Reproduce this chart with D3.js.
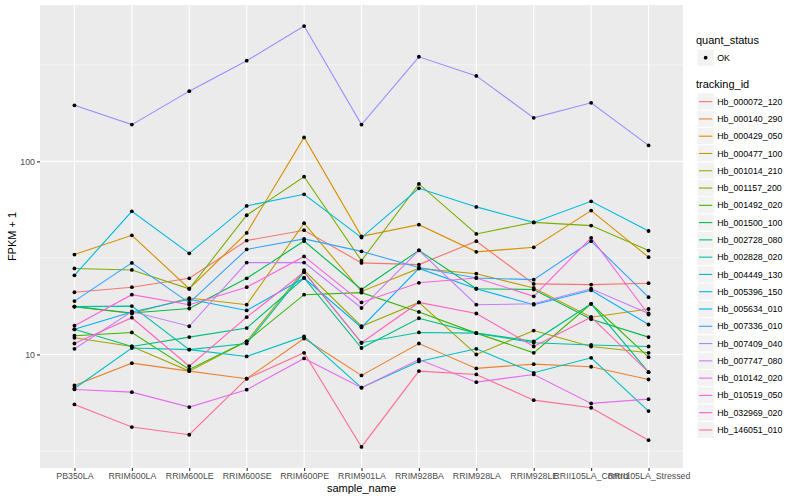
<!DOCTYPE html>
<html>
<head>
<meta charset="utf-8">
<script src="https://cdn.jsdelivr.net/npm/d3@7"></script>
<style>
  body { margin: 0; background: #fff; }
  text { font-family: "Liberation Sans", Arial, sans-serif; }
</style>
</head>
<body>
<svg id="chart" width="800" height="500"></svg>
<script>
// samples on the x axis
const samples = [
  "PB350LA", "RRIM600LA", "RRIM600LE", "RRIM600SE", "RRIM600PE", "RRIM901LA",
  "RRIM928BA", "RRIM928LA", "RRIM928LE", "RRII105LA_Control", "RRII105LA_Stressed",
];

const trackingIds = [
  "Hb_000072_120", "Hb_000140_290", "Hb_000429_050", "Hb_000477_100", "Hb_001014_210",
  "Hb_001157_200", "Hb_001492_020", "Hb_001500_100", "Hb_002728_080", "Hb_002828_020",
  "Hb_004449_130", "Hb_005396_150", "Hb_005634_010", "Hb_007336_010", "Hb_007409_040",
  "Hb_007747_080", "Hb_010142_020", "Hb_010519_050", "Hb_032969_020", "Hb_146051_010",
];

// FPKM + 1, one row per tracking_id, columns follow `samples`
const fpkm = [
  [21.0, 22.3, 24.8, 38.9, 44.0, 29.8, 29.2, 38.6, 23.2, 23.0, 23.4],
  [6.91, 9.02, 8.20, 7.49, 12.1, 7.79, 11.4, 8.47, 8.91, 8.64, 7.42],
  [32.9, 41.4, 21.9, 42.6, 133, 40.9, 47.0, 34.0, 35.9, 55.6, 31.9],
  [17.7, 16.3, 19.6, 18.1, 47.8, 21.2, 27.9, 26.2, 22.1, 15.6, 17.2],
  [12.2, 11.0, 8.20, 11.7, 27.3, 14.0, 18.6, 10.0, 13.3, 11.0, 10.2],
  [27.9, 27.4, 21.9, 52.6, 83.3, 30.6, 76.4, 42.1, 48.3, 46.5, 34.5],
  [12.5, 13.0, 8.37, 11.7, 20.4, 20.9, 16.6, 12.9, 10.2, 18.3, 9.68],
  [17.7, 16.4, 17.3, 24.8, 38.7, 21.7, 34.6, 21.9, 21.7, 15.2, 12.3],
  [13.5, 11.0, 12.3, 13.7, 24.9, 10.8, 15.4, 12.9, 11.7, 18.3, 8.10],
  [17.7, 17.8, 10.6, 11.4, 26.7, 11.5, 13.0, 12.9, 11.5, 11.2, 11.0],
  [6.67, 10.8, 10.6, 9.77, 12.4, 6.73, 9.20, 10.7, 8.04, 9.61, 5.09],
  [25.7, 55.1, 33.4, 58.8, 67.5, 40.3, 72.5, 58.1, 48.3, 62.1, 43.6],
  [13.5, 16.6, 19.3, 16.9, 24.9, 13.8, 27.9, 21.9, 18.1, 21.5, 14.3],
  [18.9, 29.8, 18.5, 35.0, 39.7, 34.2, 28.2, 24.9, 24.4, 38.6, 19.8],
  [195, 155, 231, 332, 502, 155, 348, 277, 168, 201, 121],
  [10.7, 16.7, 14.0, 29.9, 29.9, 17.4, 34.6, 18.1, 18.3, 21.9, 16.3],
  [6.59, 6.38, 5.34, 6.57, 9.54, 6.73, 9.42, 7.19, 7.88, 5.58, 5.87],
  [14.1, 20.4, 18.1, 22.3, 32.2, 18.6, 23.5, 24.9, 20.0, 40.2, 16.1],
  [11.4, 15.5, 8.70, 15.6, 26.7, 11.5, 18.6, 16.3, 11.0, 15.6, 8.10],
  [5.51, 4.21, 3.84, 7.49, 10.2, 3.32, 8.20, 7.88, 5.80, 5.30, 3.60],
];

const yTicks = [10, 100];
const yMinor = [Math.sqrt(10), Math.sqrt(1000), Math.sqrt(100000)];

// ggplot default hue palette for 20 levels
const colors = [
  "#F8766D", "#EA8331", "#D89000", "#C09B00", "#A3A500", "#7CAE00", "#39B600",
  "#00BB4E", "#00BF7D", "#00C1A3", "#00BFC4", "#00BAE0", "#00B0F6", "#35A2FF",
  "#9590FF", "#C77CFF", "#E76BF3", "#FA62DB", "#FF62BC", "#FF6C91",
];

const panel = { left: 40, right: 683, top: 5, bottom: 468 };
const svg = d3.select("#chart");

const x = d3.scalePoint()
  .domain(samples)
  .range([panel.left, panel.right])
  .padding(0.6);

// log scale, expanded by 5% on each side in log space like ggplot
const allValues = fpkm.flat();
const lo = Math.log10(d3.min(allValues));
const hi = Math.log10(d3.max(allValues));
const pad = (hi - lo) * 0.05;
const y = d3.scaleLog()
  .domain([Math.pow(10, lo - pad), Math.pow(10, hi + pad)])
  .range([panel.bottom, panel.top]);

const color = d3.scaleOrdinal().domain(trackingIds).range(colors);

// panel background + grid
svg.append("rect")
  .attr("x", panel.left).attr("y", panel.top)
  .attr("width", panel.right - panel.left)
  .attr("height", panel.bottom - panel.top)
  .attr("fill", "#EBEBEB");

const grid = svg.append("g");
grid.selectAll(".minor")
  .data(yMinor.filter((v) => y(v) > panel.top && y(v) < panel.bottom))
  .join("line")
  .attr("x1", panel.left).attr("x2", panel.right)
  .attr("y1", (d) => y(d)).attr("y2", (d) => y(d))
  .attr("stroke", "#fff").attr("stroke-width", 0.55);
grid.selectAll(".major-y")
  .data(yTicks)
  .join("line")
  .attr("x1", panel.left).attr("x2", panel.right)
  .attr("y1", (d) => y(d)).attr("y2", (d) => y(d))
  .attr("stroke", "#fff").attr("stroke-width", 1.1);
grid.selectAll(".major-x")
  .data(samples)
  .join("line")
  .attr("x1", (d) => x(d)).attr("x2", (d) => x(d))
  .attr("y1", panel.top).attr("y2", panel.bottom)
  .attr("stroke", "#fff").attr("stroke-width", 1.1);

// lines, one per tracking_id
const line = d3.line()
  .x((d, i) => x(samples[i]))
  .y((d) => y(d));

svg.append("g")
  .selectAll("path")
  .data(fpkm)
  .join("path")
  .attr("d", line)
  .attr("fill", "none")
  .attr("stroke", (d, i) => color(trackingIds[i]))
  .attr("stroke-width", 1.1);

// points on top
const points = fpkm.flatMap((row) => row.map((v, j) => ({ s: samples[j], v: v })));
svg.append("g")
  .selectAll("circle")
  .data(points)
  .join("circle")
  .attr("cx", (d) => x(d.s))
  .attr("cy", (d) => y(d.v))
  .attr("r", 1.9)
  .attr("fill", "#000");

// axes
const xAxis = svg.append("g")
  .attr("transform", `translate(0,${panel.bottom})`)
  .call(d3.axisBottom(x).tickSize(3).tickPadding(2));
const yAxis = svg.append("g")
  .attr("transform", `translate(${panel.left},0)`)
  .call(d3.axisLeft(y).tickValues(yTicks).tickFormat(d3.format("d")).tickSize(3).tickPadding(2));

[xAxis, yAxis].forEach((ax) => {
  ax.select(".domain").remove();
  ax.selectAll(".tick line").attr("stroke", "#333333").attr("stroke-width", 1.1);
  ax.selectAll(".tick text")
    .attr("fill", "#4D4D4D")
    .style("font-size", "8.8px")
    .style("font-family", "Liberation Sans, Arial, sans-serif");
});

svg.append("text")
  .attr("x", (panel.left + panel.right) / 2)
  .attr("y", 492)
  .attr("text-anchor", "middle")
  .style("font-size", "11px")
  .text("sample_name");

svg.append("text")
  .attr("transform", `translate(16,${(panel.top + panel.bottom) / 2}) rotate(-90)`)
  .attr("text-anchor", "middle")
  .style("font-size", "11px")
  .text("FPKM + 1");

// legends
const keySize = 17.28;
const legend = svg.append("g").attr("transform", "translate(697,0)");

legend.append("text")
  .attr("x", -1).attr("y", 44)
  .style("font-size", "11px")
  .text("quant_status");
legend.append("rect")
  .attr("x", 0).attr("y", 49)
  .attr("width", keySize).attr("height", keySize)
  .attr("fill", "#F2F2F2").attr("stroke", "#fff");
legend.append("circle")
  .attr("cx", keySize / 2).attr("cy", 49 + keySize / 2)
  .attr("r", 1.9).attr("fill", "#000");
legend.append("text")
  .attr("x", keySize + 3).attr("y", 49 + keySize / 2)
  .attr("dy", "0.35em")
  .style("font-size", "8.8px")
  .text("OK");

legend.append("text")
  .attr("x", -1).attr("y", 88)
  .style("font-size", "11px")
  .text("tracking_id");

const keys = legend.append("g")
  .attr("transform", "translate(0,93)")
  .selectAll("g")
  .data(trackingIds)
  .join("g")
  .attr("transform", (d, i) => `translate(0,${i * keySize})`);

keys.append("rect")
  .attr("width", keySize).attr("height", keySize)
  .attr("fill", "#F2F2F2").attr("stroke", "#fff");
keys.append("line")
  .attr("x1", 2).attr("x2", keySize - 2)
  .attr("y1", keySize / 2).attr("y2", keySize / 2)
  .attr("stroke", (d) => color(d))
  .attr("stroke-width", 1.1);
keys.append("text")
  .attr("x", keySize + 3).attr("y", keySize / 2)
  .attr("dy", "0.35em")
  .style("font-size", "8.8px")
  .text((d) => d);
</script>
</body>
</html>
